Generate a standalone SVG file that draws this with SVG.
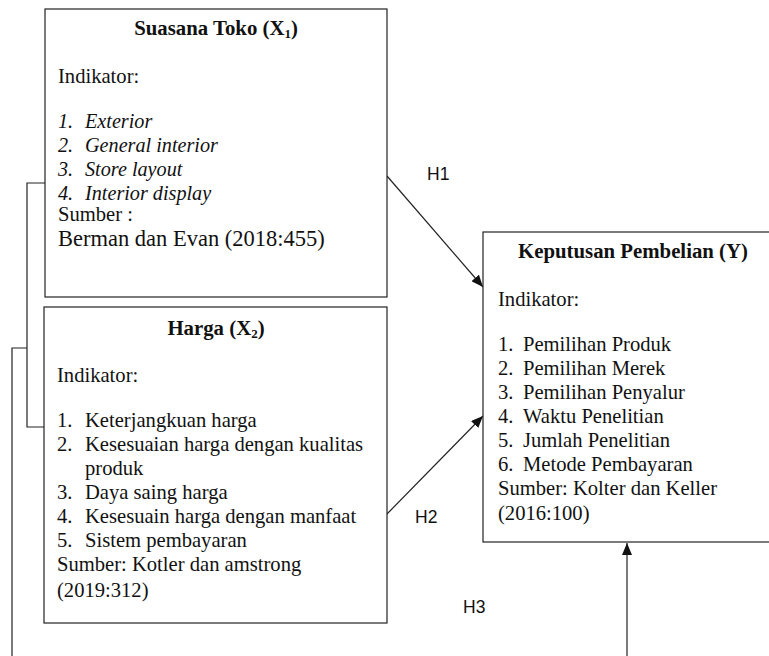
<svg xmlns="http://www.w3.org/2000/svg" width="769" height="656" viewBox="0 0 769 656">
<style>
.box{fill:#fff;stroke:#222;stroke-width:1.2}
.t{font-family:"Liberation Serif","Times New Roman",serif;font-size:20.6px;fill:#111}
.ti{font-family:"Liberation Serif","Times New Roman",serif;font-size:20.8px;font-weight:bold;fill:#111}
.it{font-style:italic;font-size:20.2px}
.h{font-family:"Liberation Sans",Arial,sans-serif;font-size:17.5px;fill:#111}
.c{fill:none;stroke:#222;stroke-width:1.2}
</style>
<defs>
<marker id="ah" viewBox="0 0 12 10" refX="12" refY="5" markerWidth="12" markerHeight="10" markerUnits="userSpaceOnUse" orient="auto">
<path d="M0,0 L12,5 L0,10 z" fill="#111"/>
</marker>
</defs>
<rect width="769" height="656" fill="#fff"/>
<g id="connectors">
<polyline class="c" points="45,183 27,183 27,427 44,427"/>
<polyline class="c" points="27,348 12,348 12,656"/>
<line class="c" x1="387" y1="176" x2="483" y2="287" marker-end="url(#ah)"/>
<line class="c" x1="386" y1="515" x2="483" y2="416" marker-end="url(#ah)"/>
<line class="c" x1="627" y1="656" x2="627" y2="543" marker-end="url(#ah)"/>
<text class="h" x="427" y="180">H1</text>
<text class="h" x="415" y="523">H2</text>
<text class="h" x="463" y="613">H3</text>
</g>
<g id="node-x1">
<rect class="box" x="45" y="9" width="342" height="288"/>
<text class="ti" x="216" y="35" text-anchor="middle">Suasana Toko (X<tspan font-size="13" dy="3">1</tspan><tspan dy="-3">)</tspan></text>
<text class="t" x="58" y="83">Indikator:</text>
<g class="t it">
<text x="58" y="128">1.</text><text x="85" y="128">Exterior</text>
<text x="58" y="152">2.</text><text x="85" y="152">General interior</text>
<text x="58" y="176">3.</text><text x="85" y="176">Store layout</text>
<text x="58" y="200">4.</text><text x="85" y="200">Interior display</text>
</g>
<text class="t" x="58" y="221">Sumber :</text>
<text class="t" x="58" y="246" style="font-size:22.5px">Berman dan Evan (2018:455)</text>
</g>
<g id="node-x2">
<rect class="box" x="44" y="307" width="343" height="316"/>
<text class="ti" x="216" y="335" text-anchor="middle">Harga (X<tspan font-size="13" dy="3">2</tspan><tspan dy="-3">)</tspan></text>
<text class="t" x="57" y="382">Indikator:</text>
<g class="t">
<text x="57" y="427">1.</text><text x="85" y="427">Keterjangkuan harga</text>
<text x="57" y="451">2.</text><text x="85" y="451">Kesesuaian harga dengan kualitas</text>
<text x="85" y="475">produk</text>
<text x="57" y="499">3.</text><text x="85" y="499">Daya saing harga</text>
<text x="57" y="523">4.</text><text x="85" y="523">Kesesuain harga dengan manfaat</text>
<text x="57" y="547">5.</text><text x="85" y="547">Sistem pembayaran</text>
<text x="57" y="571">Sumber: Kotler dan amstrong</text>
<text x="57" y="597">(2019:312)</text>
</g>
</g>
<g id="node-y">
<rect class="box" x="483" y="232" width="290" height="310"/>
<text class="ti" x="633" y="258" text-anchor="middle">Keputusan Pembelian (Y)</text>
<text class="t" x="498" y="306">Indikator:</text>
<g class="t">
<text x="498" y="351">1.</text><text x="523" y="351">Pemilihan Produk</text>
<text x="498" y="375">2.</text><text x="523" y="375">Pemilihan Merek</text>
<text x="498" y="399">3.</text><text x="523" y="399">Pemilihan Penyalur</text>
<text x="498" y="423">4.</text><text x="523" y="423">Waktu Penelitian</text>
<text x="498" y="447">5.</text><text x="523" y="447">Jumlah Penelitian</text>
<text x="498" y="471">6.</text><text x="523" y="471">Metode Pembayaran</text>
<text x="498" y="495">Sumber: Kolter dan Keller</text>
<text x="498" y="520">(2016:100)</text>
</g>
</g>
</svg>
